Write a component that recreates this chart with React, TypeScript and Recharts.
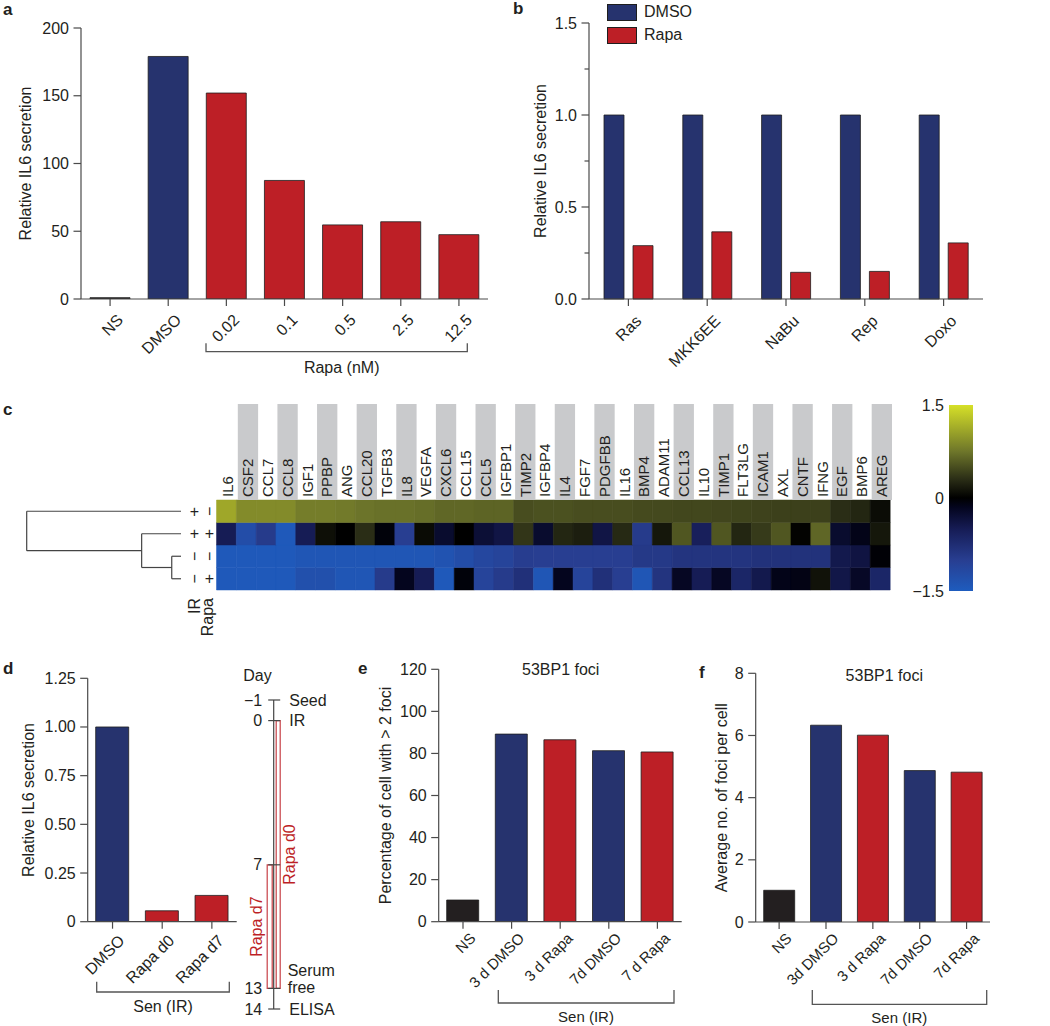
import React from 'react';
import {
  BarChart, Bar, XAxis, YAxis, Cell, Legend, ComposedChart,
  ReferenceLine, ReferenceArea, Scatter,
} from 'recharts';

const FONT = '"Liberation Sans", Arial, Helvetica, sans-serif';
const TXT = '#231f20';
const NAVY = '#26336e';
const RED = '#bd1f26';
const DARK = '#231f20';
const AXIS = '#4a4a4a';
const GRAY = '#c9cacc';
const GROUP_COLORS: Record<string, string> = { ns: DARK, dmso: NAVY, rapa: RED };

// ---------- Panel a ----------
const aCategories = ['NS', 'DMSO', '0.02', '0.1', '0.5', '2.5', '12.5'];
const aValues = [1, 179, 152, 87.5, 54.7, 57, 47.5];
const aGroups = ['ns', 'dmso', 'rapa', 'rapa', 'rapa', 'rapa', 'rapa'];
const aTicks = [0, 50, 100, 150, 200];

// ---------- Panel b ----------
const bCategories = ['Ras', 'MKK6EE', 'NaBu', 'Rep', 'Doxo'];
const bDMSO = [1, 1, 1, 1, 1];
const bRapa = [0.29, 0.365, 0.145, 0.15, 0.305];
const bTicks = [0, 0.25, 0.5, 0.75, 1, 1.25, 1.5];

// ---------- Panel c ----------
const genes = ['IL6', 'CSF2', 'CCL7', 'CCL8', 'IGF1', 'PPBP', 'ANG', 'CCL20', 'TGFB3', 'IL8', 'VEGFA', 'CXCL6', 'CCL15', 'CCL5', 'IGFBP1', 'TIMP2', 'IGFBP4', 'IL4', 'FGF7', 'PDGFBB', 'IL16', 'BMP4', 'ADAM11', 'CCL13', 'IL10', 'TIMP1', 'FLT3LG', 'ICAM1', 'AXL', 'CNTF', 'IFNG', 'EGF', 'BMP6', 'AREG'];
const rowIR = ['+', '+', '−', '−'];
const rowRapa = ['−', '+', '−', '+'];
const heatRow1 = [1.1, 0.9, 0.9, 0.9, 0.8, 0.8, 0.78, 0.74, 0.72, 0.72, 0.7, 0.66, 0.66, 0.64, 0.64, 0.5, 0.52, 0.52, 0.5, 0.5, 0.5, 0.48, 0.47, 0.46, 0.46, 0.45, 0.44, 0.43, 0.42, 0.42, 0.42, 0.3, 0.25, 0.08];
const heatRow2 = [-0.5, -1.25, -0.95, -1.45, -0.5, 0.1, 0.0, 0.3, -0.05, -1.0, 0.07, -0.25, 0.0, -0.3, -0.4, 0.35, -0.25, 0.25, 0.2, -0.4, 0.27, -0.95, 0.15, 0.55, -0.55, 0.55, 0.25, 0.38, 0.55, 0.02, 0.65, -0.25, -0.12, 0.15];
const heatRow3 = [-1.45, -1.45, -1.45, -1.45, -1.4, -1.4, -1.4, -1.4, -1.4, -1.4, -1.4, -1.35, -1.25, -1.15, -1.1, -0.98, -1.0, -1.0, -1.0, -1.0, -1.0, -0.92, -0.92, -0.85, -0.85, -0.85, -0.85, -0.82, -0.82, -0.82, -0.82, -0.45, -0.38, -0.03];
const heatRow4 = [-1.45, -1.45, -1.45, -1.45, -1.3, -1.3, -1.4, -1.4, -0.95, -0.15, -0.5, -1.45, -0.05, -1.1, -0.95, -0.8, -1.4, -0.15, -1.1, -0.8, -1.0, -1.4, -0.85, -0.18, -0.5, -0.18, -0.65, -0.45, -0.12, -0.1, 0.12, -0.42, -0.2, -0.65];
const colorbarTicks = [-1.5, 0, 1.5];
const dendroMerges = [
  { a: 'r3', b: 'r4', h: 0.6 },
  { a: 'r2', b: 'm0', h: 2.55 },
  { a: 'r1', b: 'm1', h: 10 },
];

// ---------- Panel d ----------
const dCategories = ['DMSO', 'Rapa d0', 'Rapa d7'];
const dValues = [1.0, 0.056, 0.135];
const dGroups = ['dmso', 'rapa', 'rapa'];
const dTicks = [0, 0.25, 0.5, 0.75, 1, 1.25];
const timelineDays = [-1, 0, 7, 13, 14];
const timelineEvents = ['Seed', 'IR', '', 'Serum free', 'ELISA'];
const rapaTreatments = [
  { label: 'Rapa d0', start: 0, end: 13 },
  { label: 'Rapa d7', start: 7, end: 13 },
];

// ---------- Panels e, f ----------
const eCategories = ['NS', '3 d DMSO', '3 d Rapa', '7d DMSO', '7 d Rapa'];
const eValues = [10.3, 89.2, 86.5, 81.3, 80.7];
const eTicks = [0, 20, 40, 60, 80, 100, 120];
const fCategories = ['NS', '3d DMSO', '3 d Rapa', '7d DMSO', '7d Rapa'];
const fValues = [1.02, 6.33, 6.01, 4.87, 4.82];
const fTicks = [0, 2, 4, 6, 8];
const efGroups = ['ns', 'dmso', 'rapa', 'dmso', 'rapa'];

// ---------- colour scale ----------
const heatStops = [
  { v: -1.5, c: [30, 92, 190] },
  { v: -1.0, c: [40, 62, 145] },
  { v: -0.5, c: [22, 28, 85] },
  { v: -0.15, c: [4, 5, 30] },
  { v: 0, c: [0, 0, 0] },
  { v: 0.3, c: [42, 45, 22] },
  { v: 0.75, c: [110, 118, 42] },
  { v: 1.5, c: [214, 224, 40] },
];
function heatColor(v: number): string {
  const x = Math.max(-1.5, Math.min(1.5, v));
  for (let i = 0; i < heatStops.length - 1; i++) {
    const s0 = heatStops[i], s1 = heatStops[i + 1];
    if (x >= s0.v && x <= s1.v) {
      const t = (x - s0.v) / (s1.v - s0.v);
      const c = s0.c.map((k, j) => Math.round(k + (s1.c[j] - k) * t));
      return `rgb(${c[0]},${c[1]},${c[2]})`;
    }
  }
  return 'rgb(0,0,0)';
}

// ---------- tick renderers ----------
const makeYTick = (fmt: (v: number) => string, isMinor?: (v: number) => boolean, fontSize = 16) => (props: any) => {
  const { x, y, payload } = props;
  const v = payload.value;
  const minor = isMinor ? isMinor(v) : false;
  return (
    <g>
      <line x1={x - (minor ? 4.5 : 7.5)} x2={x} y1={y} y2={y} stroke={AXIS} strokeWidth={1.2} />
      {!minor && (
        <text x={x - 12} y={y} textAnchor="end" dominantBaseline="central" fontSize={fontSize} fill={TXT} fontFamily={FONT}>
          {fmt(v)}
        </text>
      )}
    </g>
  );
};

const makeXTick = (fontSize: number, dx: number, dy: number) => (props: any) => {
  const { x, y, payload } = props;
  return (
    <g>
      <line x1={x} x2={x} y1={y} y2={y + 7} stroke={AXIS} strokeWidth={1.2} />
      <g transform={`translate(${x + dx},${y + dy}) rotate(-45)`}>
        <text x={0} y={0} dy="0.71em" textAnchor="end" fontSize={fontSize} fill={TXT} fontFamily={FONT}>
          {payload.value}
        </text>
      </g>
    </g>
  );
};

// ---------- generic single-series bar panel ----------
function BarPanel(p: any) {
  const data = p.cats.map((c: string, i: number) => ({ name: c, value: p.vals[i], group: p.groups[i] }));
  return (
    <div style={{ position: 'absolute', left: p.left, top: p.top }}>
      <BarChart width={p.width} height={p.height} data={data} margin={p.margin} barCategoryGap={0}>
        <XAxis dataKey="name" type="category" interval={0} height={p.xHeight} tickSize={0} tickMargin={0}
          tickLine={false} axisLine={{ stroke: AXIS, strokeWidth: 1.2 }} tick={makeXTick(p.xFont, p.xdx, p.xdy)} />
        <YAxis type="number" domain={p.domain} ticks={p.ticks} interval={0} width={p.yWidth} tickSize={0} tickMargin={0}
          tickLine={false} axisLine={{ stroke: AXIS, strokeWidth: 1.2 }} tick={makeYTick(p.yFmt)} allowDataOverflow />
        <Bar dataKey="value" barSize={p.barSize} isAnimationActive={false} stroke="#1e1e1e" strokeWidth={0.8}>
          {data.map((d: any, i: number) => <Cell key={i} fill={GROUP_COLORS[d.group]} />)}
        </Bar>
      </BarChart>
    </div>
  );
}

function PanelB() {
  const data = bCategories.map((c, i) => ({ name: c, DMSO: bDMSO[i], Rapa: bRapa[i] }));
  const isMinor = (v: number) => Math.abs(v * 2 - Math.round(v * 2)) > 1e-6;
  return (
    <div style={{ position: 'absolute', left: 500, top: 0 }}>
      <BarChart width={500} height={390} data={data} margin={{ top: 23, right: 17, left: 0, bottom: 0 }} barGap={9} barCategoryGap={0}>
        <XAxis dataKey="name" type="category" interval={0} height={91} tickSize={0} tickMargin={0}
          tickLine={false} axisLine={{ stroke: AXIS, strokeWidth: 1.2 }} tick={makeXTick(16, 6, 15)} />
        <YAxis type="number" domain={[0, 1.5]} ticks={bTicks} interval={0} width={89} tickSize={0} tickMargin={0}
          tickLine={false} axisLine={{ stroke: AXIS, strokeWidth: 1.2 }} tick={makeYTick((v) => v.toFixed(1), isMinor)} />
        <Legend layout="vertical" align="center" verticalAlign="middle"
          wrapperStyle={{ position: 'absolute', left: 107, top: 4, width: 120, height: 42 }}
          content={(props: any) => (
            <div style={{ fontFamily: FONT }}>
              {(props.payload || []).map((e: any, i: number) => (
                <div key={i} style={{ display: 'flex', alignItems: 'center', height: 16, marginBottom: 7 }}>
                  <div style={{ width: 28, height: 15, background: e.color, border: '1px solid #1e1e1e' }} />
                  <span style={{ marginLeft: 7, fontSize: 16, color: TXT }}>{e.value}</span>
                </div>
              ))}
            </div>
          )} />
        <Bar dataKey="DMSO" name="DMSO" fill={NAVY} barSize={20} isAnimationActive={false} stroke="#1e1e1e" strokeWidth={0.8} />
        <Bar dataKey="Rapa" name="Rapa" fill={RED} barSize={20} isAnimationActive={false} stroke="#1e1e1e" strokeWidth={0.8} />
      </BarChart>
    </div>
  );
}

// ---------- heatmap ----------
const HM_LEFT = 200;
const HM_PLOT_W = 673.5;
const HM_COL = HM_PLOT_W / genes.length;

const GeneTick = (props: any) => {
  const { x, y, payload } = props;
  const i = genes.indexOf(payload.value);
  const shade = i % 2 === 1;
  return (
    <g>
      {shade && <rect x={x - HM_COL / 2 + 1.5} y={y - 96} width={HM_COL + 0.5} height={96} fill={GRAY} />}
      <text transform={`translate(${x + 1.5},${y - 3}) rotate(-90)`} textAnchor="start" dominantBaseline="central"
        fontSize={15} fill={TXT} fontFamily={FONT}>{payload.value}</text>
    </g>
  );
};

function Heatmap() {
  const rows = [heatRow1, heatRow2, heatRow3, heatRow4];
  const data = genes.map((g) => ({ gene: g, r1: 1, r2: 1, r3: 1, r4: 1 }));
  const stackOrder = [3, 2, 1, 0];
  return (
    <div style={{ position: 'absolute', left: HM_LEFT, top: 400 }}>
      <BarChart width={700} height={200} data={data} margin={{ top: 4, right: 700 - 16.5 - HM_PLOT_W, bottom: 10, left: 16.5 }}
        barCategoryGap={0} barGap={0}>
        <XAxis dataKey="gene" type="category" orientation="top" interval={0} height={96} tickSize={0} tickMargin={0}
          axisLine={false} tickLine={false} tick={GeneTick} />
        <YAxis type="number" domain={[0, 4]} hide />
        {stackOrder.map((ri) => (
          <Bar key={ri} dataKey={`r${ri + 1}`} stackId="h" isAnimationActive={false}>
            {rows[ri].map((v, j) => <Cell key={j} fill={heatColor(v)} stroke={heatColor(v)} strokeWidth={0.5} />)}
          </Bar>
        ))}
      </BarChart>
    </div>
  );
}

function ColorBar() {
  const data = [{ name: 'scale', range: [colorbarTicks[0], colorbarTicks[colorbarTicks.length - 1]] }];
  const fmt = (v: number) => (v === 0 ? '0' : v < 0 ? `−${Math.abs(v)}` : `${v}`);
  return (
    <div style={{ position: 'absolute', left: 895, top: 395 }}>
      <BarChart width={105} height={210} data={data} margin={{ top: 10, right: 27, bottom: 14, left: 0 }} barCategoryGap={0}>
        <defs>
          <linearGradient id="cbarGrad" x1="0" y1="0" x2="0" y2="1">
            {heatStops.slice().reverse().map((s, i) => (
              <stop key={i} offset={`${((1.5 - s.v) / 3) * 100}%`} stopColor={`rgb(${s.c[0]},${s.c[1]},${s.c[2]})`} />
            ))}
          </linearGradient>
        </defs>
        <XAxis dataKey="name" hide />
        <YAxis type="number" domain={[-1.5, 1.5]} ticks={colorbarTicks} interval={0} width={54} axisLine={false}
          tickLine={false} tickSize={0} tickMargin={5} tick={{ fontSize: 16, fill: TXT, fontFamily: FONT }} tickFormatter={fmt} />
        <Bar dataKey="range" fill="url(#cbarGrad)" isAnimationActive={false} />
      </BarChart>
    </div>
  );
}

const SignShape = (props: any) => {
  const { cx, cy, payload } = props;
  const mk = (s: string, x: number) => (
    <text transform={`translate(${x},${cy}) rotate(${s === '−' ? -90 : 0})`} textAnchor="middle" dominantBaseline="central"
      fontSize={16} fill={TXT} fontFamily={FONT}>{s}</text>
  );
  return <g>{mk(payload.ir, cx + 13.3)}{mk(payload.rapa, cx + 28.3)}</g>;
};

function Dendrogram() {
  const pos: Record<string, { y: number; h: number }> = {
    r1: { y: 3.5, h: 0 }, r2: { y: 2.5, h: 0 }, r3: { y: 1.5, h: 0 }, r4: { y: 0.5, h: 0 },
  };
  const segs: any[] = [];
  dendroMerges.forEach((m, i) => {
    const A = pos[m.a], B = pos[m.b];
    segs.push([{ x: m.h, y: A.y }, { x: m.h, y: B.y }]);
    segs.push([{ x: A.h, y: A.y }, { x: m.h, y: A.y }]);
    segs.push([{ x: B.h, y: B.y }, { x: m.h, y: B.y }]);
    pos[`m${i}`] = { y: (A.y + B.y) / 2, h: m.h };
  });
  const signData = rowIR.map((s, i) => ({ x: 0, y: 3.5 - i, ir: s, rapa: rowRapa[i] }));
  return (
    <div style={{ position: 'absolute', left: 0, top: 490 }}>
      <ComposedChart width={240} height={110} margin={{ top: 10, right: 240 - 181, bottom: 10, left: 26.7 }}>
        <XAxis type="number" dataKey="x" domain={[0, 10]} reversed hide />
        <YAxis type="number" dataKey="y" domain={[0, 4]} hide />
        {segs.map((s, i) => (
          <ReferenceLine key={i} segment={s} stroke="#444" strokeWidth={1.2} ifOverflow="visible" />
        ))}
        <Scatter data={signData} isAnimationActive={false} shape={SignShape} />
      </ComposedChart>
    </div>
  );
}

// ---------- timeline (panel d right) ----------
const fmtDay = (d: number) => (d < 0 ? `−${Math.abs(d)}` : `${d}`);
const EventShape = (props: any) => {
  const { cx, cy, payload } = props;
  const parts = payload.event ? payload.event.split(' ') : [];
  const t = (s: string, x: number, y: number, anchor: string) => (
    <text x={x} y={y} textAnchor={anchor} dominantBaseline="central" fontSize={16} fill={TXT} fontFamily={FONT}>{s}</text>
  );
  return (
    <g>
      <line x1={cx - 5.5} x2={cx + 6.5} y1={cy} y2={cy} stroke="#444" strokeWidth={1.2} />
      {t(fmtDay(payload.day), cx - 11.5, cy, 'end')}
      {parts.length === 1 && t(parts[0], cx + 15.6, cy, 'start')}
      {parts.length === 2 && t(parts[0], cx + 14, cy - 18, 'start')}
      {parts.length === 2 && t(parts[1], cx + 14, cy - 1, 'start')}
    </g>
  );
};
const RapaLabelShape = (props: any) => {
  const { cx, cy, payload } = props;
  return (
    <text transform={`translate(${cx},${cy}) rotate(-90)`} textAnchor="middle" dominantBaseline="central"
      fontSize={16} fill={RED} fontFamily={FONT}>{payload.label}</text>
  );
};

function Timeline() {
  const events = timelineDays.map((d, i) => ({ x: 0, y: d, day: d, event: timelineEvents[i] }));
  const lanes: Record<string, { x1: number; x2: number; lx: number }> = {
    'Rapa d0': { x1: 2.5, x2: 6.5, lx: 15.3 },
    'Rapa d7': { x1: -6.5, x2: -1.5, lx: -17 },
  };
  const labels = rapaTreatments.map((t) => ({ x: lanes[t.label].lx, y: (t.start + t.end) / 2, label: t.label }));
  return (
    <div style={{ position: 'absolute', left: 230, top: 640 }}>
      <ComposedChart width={130} height={386} margin={{ top: 60, right: 130 - 63.7, bottom: 17, left: 23.7 }}>
        <XAxis type="number" dataKey="x" domain={[-20, 20]} hide />
        <YAxis type="number" dataKey="y" domain={[timelineDays[0], timelineDays[timelineDays.length - 1]]} reversed hide />
        <ReferenceLine segment={[{ x: 0, y: timelineDays[0] }, { x: 0, y: timelineDays[timelineDays.length - 1] }]}
          stroke="#444" strokeWidth={1.2} ifOverflow="visible" />
        {rapaTreatments.map((t) => (
          <ReferenceArea key={t.label} x1={lanes[t.label].x1} x2={lanes[t.label].x2} y1={t.start} y2={t.end}
            fill="none" fillOpacity={0} stroke={RED} strokeWidth={1.2} strokeOpacity={0.85} ifOverflow="visible" />
        ))}
        <Scatter data={events} isAnimationActive={false} shape={EventShape} />
        <Scatter data={labels} isAnimationActive={false} shape={RapaLabelShape} />
      </ComposedChart>
    </div>
  );
}

// ---------- overlay annotations ----------
function Overlay() {
  const T = (props: any) => <text fontFamily={FONT} fill={TXT} fontSize={16} {...props} />;
  const vlabel = (x: number, y: number, s: string) => (
    <T x={0} y={0} transform={`translate(${x},${y}) rotate(-90)`} textAnchor="middle" dominantBaseline="central">{s}</T>
  );
  const bracket = (x1: number, x2: number, yTop: number, yLine: number) => (
    <path d={`M${x1},${yTop} V${yLine} H${x2} V${yTop}`} fill="none" stroke="#555" strokeWidth={1.3} />
  );
  return (
    <svg width={1050} height={1026} style={{ position: 'absolute', left: 0, top: 0, pointerEvents: 'none' }}>
      <T x={3} y={15} fontSize={17} fontWeight="bold">a</T>
      <T x={513} y={14} fontSize={17} fontWeight="bold">b</T>
      <T x={3} y={415} fontSize={17} fontWeight="bold">c</T>
      <T x={3} y={674} fontSize={17} fontWeight="bold">d</T>
      <T x={358} y={674} fontSize={17} fontWeight="bold">e</T>
      <T x={699} y={678} fontSize={17} fontWeight="bold">f</T>

      {vlabel(25, 163.5, 'Relative IL6 secretion')}
      {vlabel(540, 161, 'Relative IL6 secretion')}
      {vlabel(28.3, 800, 'Relative IL6 secretion')}
      {vlabel(385, 795.5, 'Percentage of cell with > 2 foci')}
      {vlabel(721.7, 797.7, 'Average no. of  foci per cell')}

      {bracket(206, 467.3, 343.3, 351.7)}
      <T x={341.7} y={367.3} textAnchor="middle" dominantBaseline="central">Rapa (nM)</T>
      {bracket(96.7, 229.3, 981.7, 992)}
      <T x={163} y={1006.7} textAnchor="middle" dominantBaseline="central">Sen (IR)</T>
      {bracket(498.3, 674, 990, 1003)}
      <T x={586} y={1016.7} textAnchor="middle" dominantBaseline="central" fontSize={15}>Sen (IR)</T>
      {bracket(812.3, 986.7, 990, 1004.3)}
      <T x={899.3} y={1017} textAnchor="middle" dominantBaseline="central" fontSize={15}>Sen (IR)</T>

      <T x={560.7} y={669.3} textAnchor="middle" dominantBaseline="central">53BP1 foci</T>
      <T x={884.3} y={675} textAnchor="middle" dominantBaseline="central">53BP1 foci</T>
      <T x={243.3} y={675} dominantBaseline="central">Day</T>

      <T x={0} y={0} transform="translate(194.3,598) rotate(-90)" textAnchor="end" dominantBaseline="central">IR</T>
      <T x={0} y={0} transform="translate(207.5,598) rotate(-90)" textAnchor="end" dominantBaseline="central">Rapa</T>
    </svg>
  );
}

export default function App() {
  const intFmt = (v: number) => `${v}`;
  const dFmt = (v: number) => (v === 0 ? '0' : v.toFixed(2));
  return (
    <div style={{ position: 'absolute', left: 0, top: 0, width: 1050, height: 1026, background: '#fff', overflow: 'hidden', fontFamily: FONT }}>
      <BarPanel left={0} top={0} width={500} height={390} margin={{ top: 28, right: 12, left: 0, bottom: 0 }}
        yWidth={81} xHeight={91} cats={aCategories} vals={aValues} groups={aGroups} domain={[0, 200]} ticks={aTicks}
        yFmt={intFmt} barSize={40} xFont={16} xdx={6} xdy={14} />
      <PanelB />
      <Dendrogram />
      <Heatmap />
      <ColorBar />
      <BarPanel left={0} top={640} width={250} height={386} margin={{ top: 38.3, right: 13.3, left: 0, bottom: 0 }}
        yWidth={87.7} xHeight={104.3} cats={dCategories} vals={dValues} groups={dGroups} domain={[0, 1.25]} ticks={dTicks}
        yFmt={dFmt} barSize={33} xFont={16} xdx={5} xdy={12} />
      <Timeline />
      <BarPanel left={350} top={640} width={340} height={386} margin={{ top: 29.3, right: 8.3, left: 0, bottom: 0 }}
        yWidth={88.7} xHeight={104.3} cats={eCategories} vals={eValues} groups={efGroups} domain={[0, 120]} ticks={eTicks}
        yFmt={intFmt} barSize={32} xFont={15} xdx={6} xdy={10} />
      <BarPanel left={690} top={640} width={360} height={386} margin={{ top: 33.3, right: 60, left: 0, bottom: 0 }}
        yWidth={65.7} xHeight={104} cats={fCategories} vals={fValues} groups={efGroups} domain={[0, 8]} ticks={fTicks}
        yFmt={intFmt} barSize={31} xFont={15} xdx={6} xdy={10} />
      <Overlay />
    </div>
  );
}
